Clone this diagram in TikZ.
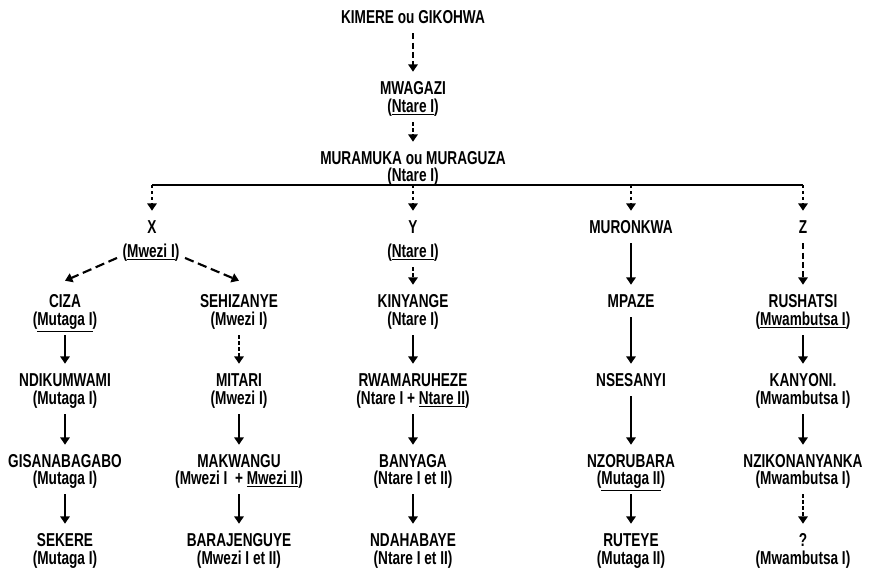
\documentclass[tikz,border=0pt]{standalone}
\usepackage{fontspec}
\setmainfont{Liberation Sans}[FakeStretch=0.73]
\usepackage{tikz}
\usetikzlibrary{arrows.meta}

\begin{document}
\begin{tikzpicture}[x=0.75pt,y=-0.75pt,
      nm/.style={inner sep=0pt,text height=10pt,text depth=0pt,
                 font=\bfseries\fontsize{14}{15}\selectfont},
      rg/.style={nm},
      lnk/.style={line width=1.6pt,-{Triangle[length=5.5pt,width=7pt]},
                  shorten <=7pt,shorten >=7pt},
      lnkdash/.style={lnk,dash pattern=on 4.5pt off 2.5pt},
      lnklong/.style={lnk,dash pattern=on 7pt off 3.5pt,
                      shorten <=0pt,shorten >=0pt},
      lnkdot/.style={lnk,dash pattern=on 2.5pt off 2pt},
      bar/.style={line width=1.7pt}]
    \useasboundingbox (0,0) rectangle (872,569);
    % top of the line
    \node[nm] (kim)  at (413,17)  {KIMERE ou GIKOHWA};
    \node[nm] (mwa)  at (413,88)  {MWAGAZI};
    \node[rg] (mwar) at (413,106) {(\underline{Ntare I})};
    \node[nm] (mur)  at (413,158) {MURAMUKA ou MURAGUZA};
    \node[rg] (murr) at (413,175) {(Ntare I)};
    \draw[lnkdash] (kim.south) -- (mwa.north);
    \draw[lnkdot] (mwar.south) -- (mur.north);
    % the bar and its four branches
    \coordinate (bx) at (152,185);
    \coordinate (by) at (413,185);
    \coordinate (bm) at (631,185);
    \coordinate (bz) at (803,185);
    \draw[bar] (bx) -- (bz);
    \node[nm] (x)   at (152,227) {X};
    \node[rg] (xr)  at (151,251) {(\underline{Mwezi I})};
    \node[nm] (y)   at (413,227) {Y};
    \node[rg] (yr)  at (413,251) {(\underline{Ntare I})};
    \node[nm] (mro) at (631,227) {MURONKWA};
    \node[nm] (z)   at (803,227) {Z};
    \foreach \b/\n in {bx/x,by/y,bm/mro,bz/z}
      \draw[lnkdot,shorten <=0pt] (\b) -- (\n.north);
    % row 4
    \node[nm] (ciza)  at (65,301)  {CIZA};
    \node[rg] (cizar) at (65,319)  {(\underline{Mutaga I})};
    \node[nm] (seh)   at (239,301) {SEHIZANYE};
    \node[rg] (sehr)  at (239,319) {(Mwezi I)};
    \node[nm] (kin)   at (413,301) {KINYANGE};
    \node[rg] (kinr)  at (413,319) {(Ntare I)};
    \node[nm] (mpa)   at (631,301) {MPAZE};
    \node[nm] (rus)   at (803,301) {RUSHATSI};
    \node[rg] (rusr)  at (803,319) {(\underline{Mwambutsa I})};
    % row 5
    \node[nm] (ndi)  at (65,380)  {NDIKUMWAMI};
    \node[rg] (ndir) at (65,398)  {(Mutaga I)};
    \node[nm] (mit)  at (239,380) {MITARI};
    \node[rg] (mitr) at (239,398) {(Mwezi I)};
    \node[nm] (rwa)  at (413,380) {RWAMARUHEZE};
    \node[rg] (rwar) at (413,398) {(Ntare I + \underline{Ntare II})};
    \node[nm] (nse)  at (631,380) {NSESANYI};
    \node[nm] (kan)  at (803,380) {KANYONI.};
    \node[rg] (kanr) at (803,398) {(Mwambutsa I)};
    % row 6
    \node[nm] (gis)  at (65,461)  {GISANABAGABO};
    \node[rg] (gisr) at (65,478)  {(Mutaga I)};
    \node[nm] (mak)  at (239,461) {MAKWANGU};
    \node[rg] (makr) at (239,478) {(Mwezi I \ + \underline{Mwezi II})};
    \node[nm] (ban)  at (413,461) {BANYAGA};
    \node[rg] (banr) at (413,478) {(Ntare I et II)};
    \node[nm] (nzo)  at (631,461) {NZORUBARA};
    \node[rg] (nzor) at (631,478) {(\underline{Mutaga II})};
    \node[nm] (nzi)  at (803,461) {NZIKONANYANKA};
    \node[rg] (nzir) at (803,478) {(Mwambutsa I)};
    % row 7
    \node[nm] (sek)  at (65,540)  {SEKERE};
    \node[rg] (sekr) at (65,558)  {(Mutaga I)};
    \node[nm] (bjg)  at (239,540) {BARAJENGUYE};
    \node[rg] (bjgr) at (239,558) {(Mwezi I et II)};
    \node[nm] (nda)  at (413,540) {NDAHABAYE};
    \node[rg] (ndar) at (413,558) {(Ntare I et II)};
    \node[nm] (rut)  at (631,540) {RUTEYE};
    \node[rg] (rutr) at (631,558) {(Mutaga II)};
    \node[nm] (qq)   at (803,540) {?};
    \node[rg] (qqr)  at (803,558) {(Mwambutsa I)};
    % descent
    \draw[lnklong] ([xshift=-4pt]xr.south west) -- ([yshift=10pt]ciza.north);
    \draw[lnklong] ([xshift=4pt]xr.south east) -- ([yshift=10pt]seh.north);
    \draw[lnkdash] (z.south) -- (rus.north);
    \foreach \a/\b in {yr/kin,sehr/mit,nzir/qq}
      \draw[lnkdot] (\a.south) -- (\b.north);
    \foreach \a/\b in {cizar/ndi,ndir/gis,gisr/sek,mitr/mak,makr/bjg,
                       kinr/rwa,rwar/ban,banr/nda,mro/mpa,mpa/nse,
                       nse/nzo,nzor/rut,rusr/kan,kanr/nzi}
      \draw[lnk] (\a.south) -- (\b.north);
  \end{tikzpicture}
\end{document}
